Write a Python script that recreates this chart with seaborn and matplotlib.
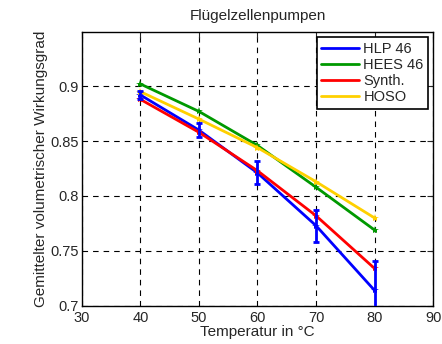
#!/usr/bin/env python
""" Volumetric efficiency of vane pumps vs temperature """

import pandas as pd
import seaborn as sns
import matplotlib
matplotlib.use('Agg')
import matplotlib.pyplot as plt

temps = [40, 50, 60, 70, 80]
hlp46 = [0.892, 0.860, 0.821, 0.773, 0.714]
hlp46_err = [0.0035, 0.006, 0.0105, 0.0145, 0.027]
hees46 = [0.902, 0.877, 0.846, 0.808, 0.769]
synth = [0.888, 0.858, 0.823, 0.782, 0.734]
hoso = [0.895, 0.870, 0.844, 0.813, 0.780]
series_names = ['HLP 46', 'HEES 46', 'Synth.', 'HOSO']
colors = ['#0000FF', '#009900', '#FF0000', '#FFD000']


def main():
    """ Main function """
    sns.set_style("white")
    plt.rcParams['font.family'] = ['Liberation Sans', 'DejaVu Sans']

    df = pd.DataFrame({
        'temp': temps * 4,
        'eta': hlp46 + hees46 + synth + hoso,
        'oil': sum([[n] * len(temps) for n in series_names], []),
    })

    f = plt.figure(figsize=(4.42, 3.44), dpi=100)
    ax = f.add_axes([0.185, 0.111, 0.795, 0.795])

    sns.lineplot(data=df, x='temp', y='eta', hue='oil',
                 palette=dict(zip(series_names, colors)), ax=ax,
                 linewidth=2, marker='*', markersize=6,
                 markeredgewidth=0, zorder=3)

    # error bars only for HLP 46
    ax.errorbar(temps, hlp46, yerr=hlp46_err, fmt='none',
                ecolor=colors[0], elinewidth=2, capsize=2.5,
                capthick=2, zorder=3)

    ax.set_xlim(30, 90)
    ax.set_ylim(0.7, 0.949)
    ax.set_xticks([30, 40, 50, 60, 70, 80, 90])
    ax.set_yticks([0.7, 0.75, 0.8, 0.85, 0.9])
    ax.set_yticklabels(['0.7', '0.75', '0.8', '0.85', '0.9'])
    ax.grid(True, color='black', linestyle=(0, (5, 4.5)), linewidth=0.8)
    ax.tick_params(direction='in', length=4, labelsize=10.5,
                   top=True, right=True, pad=2)
    ax.tick_params(axis='x', pad=4)
    for s in ax.spines.values():
        s.set_color('black')
        s.set_linewidth(1)

    ax.set_title('Flügelzellenpumpen', fontsize=11, pad=9)
    ax.set_xlabel('Temperatur in °C', fontsize=11, labelpad=0)
    ax.set_ylabel('Gemittelter volumetrischer Wirkungsgrad', fontsize=11,
                  labelpad=2)

    leg = ax.legend(loc='upper right', fontsize=10.5, frameon=True,
                    fancybox=False, borderpad=0.3, handlelength=2.6,
                    handletextpad=0.3, labelspacing=0.15,
                    borderaxespad=0.35)
    leg.get_frame().set_edgecolor('black')
    leg.get_frame().set_linewidth(1.2)
    leg.get_frame().set_alpha(1)
    for line in leg.get_lines():
        line.set_marker('')

    f.savefig('out.png', dpi=100)
    plt.close(f)


if __name__ == '__main__':
    main()
